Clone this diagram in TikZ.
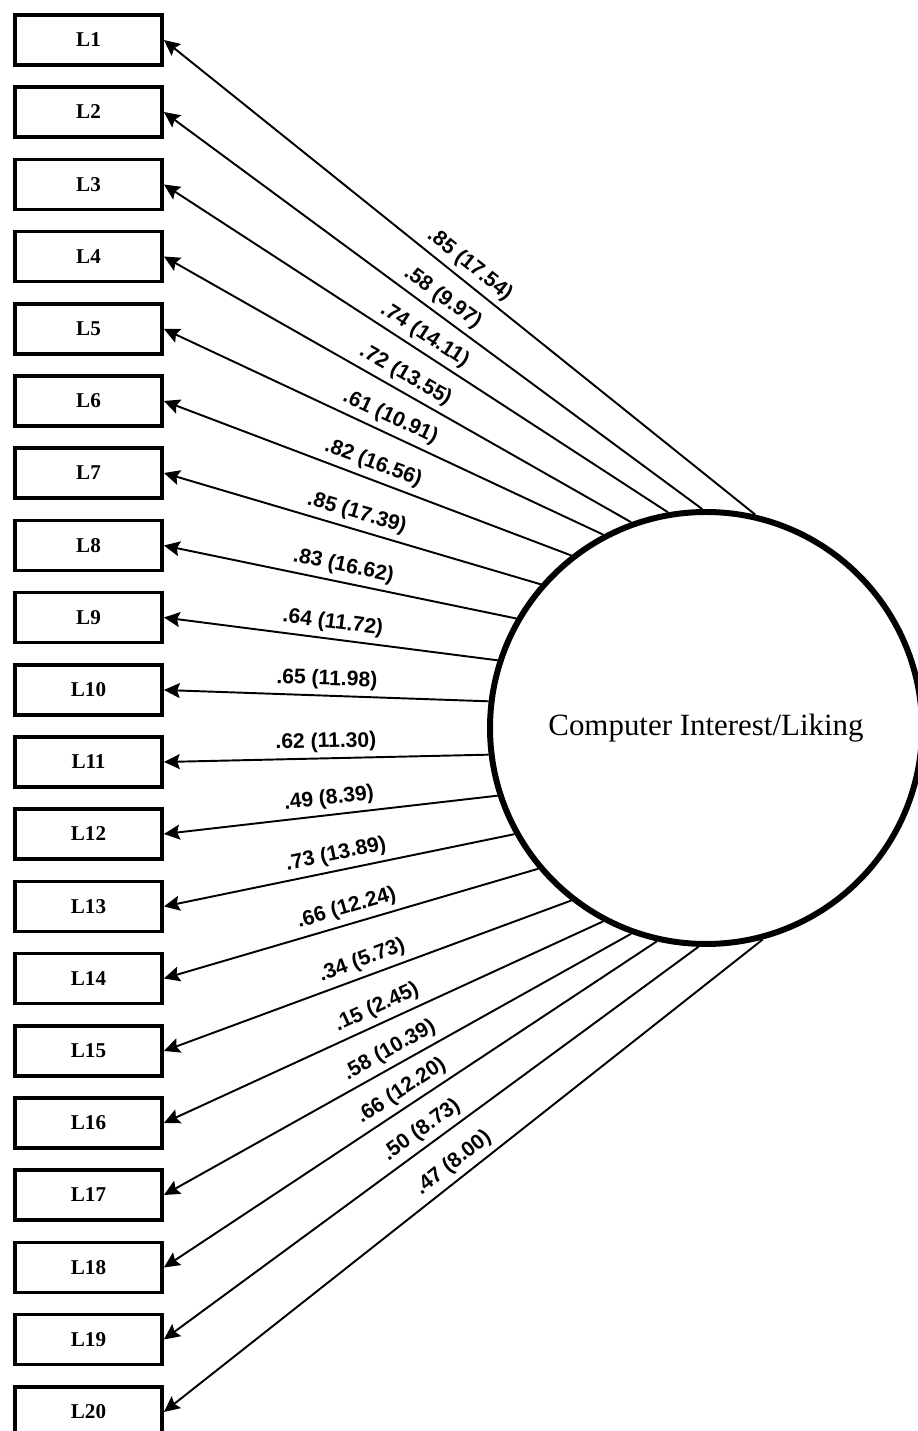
\documentclass[tikz,border=0pt]{standalone}
\usepackage{fontspec}
\setmainfont{Liberation Serif}
\newfontfamily\lblfont{Liberation Sans}
\usetikzlibrary{arrows.meta}

\begin{document}
\begin{tikzpicture}[
    item/.style={draw, line width=2.2pt, minimum width=2.94cm, minimum height=1cm,
      inner sep=0pt, font=\fontsize{12}{14}\selectfont\bfseries},
    arr/.style={{Stealth[length=9pt, width=8.5pt, inset=1.5pt]}-, line width=1.1pt},
    lbl/.style={midway, sloped, above, inner sep=3pt,
      font=\lblfont\bfseries\fontsize{12}{14}\selectfont}
  ]

  \clip (0,0) rectangle (18.36,28.62);

  % --- fattore latente ---
  \node[draw, circle, line width=3.4pt, minimum size=8.64cm, inner sep=0pt,
    font=\fontsize{17.6}{20}\selectfont] (lat) at (14.12,14.06) {Computer Interest/Liking};

  % --- indicatori L1..L20 ---
  \node[item] (l1) at (1.77,27.82) {L1};
  \node[item] (l2) at (1.77,26.38) {L2};
  \node[item] (l3) at (1.77,24.93) {L3};
  \node[item] (l4) at (1.77,23.49) {L4};
  \node[item] (l5) at (1.77,22.04) {L5};
  \node[item] (l6) at (1.77,20.60) {L6};
  \node[item] (l7) at (1.77,19.16) {L7};
  \node[item] (l8) at (1.77,17.71) {L8};
  \node[item] (l9) at (1.77,16.27) {L9};
  \node[item] (l10) at (1.77,14.82) {L10};
  \node[item] (l11) at (1.77,13.38) {L11};
  \node[item] (l12) at (1.77,11.94) {L12};
  \node[item] (l13) at (1.77,10.49) {L13};
  \node[item] (l14) at (1.77,9.05) {L14};
  \node[item] (l15) at (1.77,7.60) {L15};
  \node[item] (l16) at (1.77,6.16) {L16};
  \node[item] (l17) at (1.77,4.72) {L17};
  \node[item] (l18) at (1.77,3.27) {L18};
  \node[item] (l19) at (1.77,1.83) {L19};
  \node[item] (l20) at (1.77,0.38) {L20};

  % --- saturazioni (t) ---
  \draw[arr] (l1.east) -- node[lbl] {.85 (17.54)} (lat.77);
  \draw[arr] (l2.east) -- node[lbl] {.58 (9.97)} (lat.91);
  \draw[arr] (l3.east) -- node[lbl] {.74 (14.11)} (lat.100);
  \draw[arr] (l4.east) -- node[lbl] {.72 (13.55)} (lat.110);
  \draw[arr] (l5.east) -- node[lbl] {.61 (10.91)} (lat.118);
  \draw[arr] (l6.east) -- node[lbl] {.82 (16.56)} (lat.128);
  \draw[arr] (l7.east) -- node[lbl] {.85 (17.39)} (lat.139);
  \draw[arr] (l8.east) -- node[lbl] {.83 (16.62)} (lat.150);
  \draw[arr] (l9.east) -- node[lbl] {.64 (11.72)} (lat.162);
  \draw[arr] (l10.east) -- node[lbl] {.65 (11.98)} (lat.173);
  \draw[arr] (l11.east) -- node[lbl] {.62 (11.30)} (lat.187);
  \draw[arr] (l12.east) -- node[lbl] {.49 (8.39)} (lat.198);
  \draw[arr] (l13.east) -- node[lbl] {.73 (13.89)} (lat.209);
  \draw[arr] (l14.east) -- node[lbl] {.66 (12.24)} (lat.220);
  \draw[arr] (l15.east) -- node[lbl] {.34 (5.73)} (lat.232);
  \draw[arr] (l16.east) -- node[lbl] {.15 (2.45)} (lat.242);
  \draw[arr] (l17.east) -- node[lbl] {.58 (10.39)} (lat.250);
  \draw[arr] (l18.east) -- node[lbl] {.66 (12.20)} (lat.257);
  \draw[arr] (l19.east) -- node[lbl] {.50 (8.73)} (lat.268);
  \draw[arr] (l20.east) -- node[lbl] {.47 (8.00)} (lat.285);

\end{tikzpicture}
\end{document}
